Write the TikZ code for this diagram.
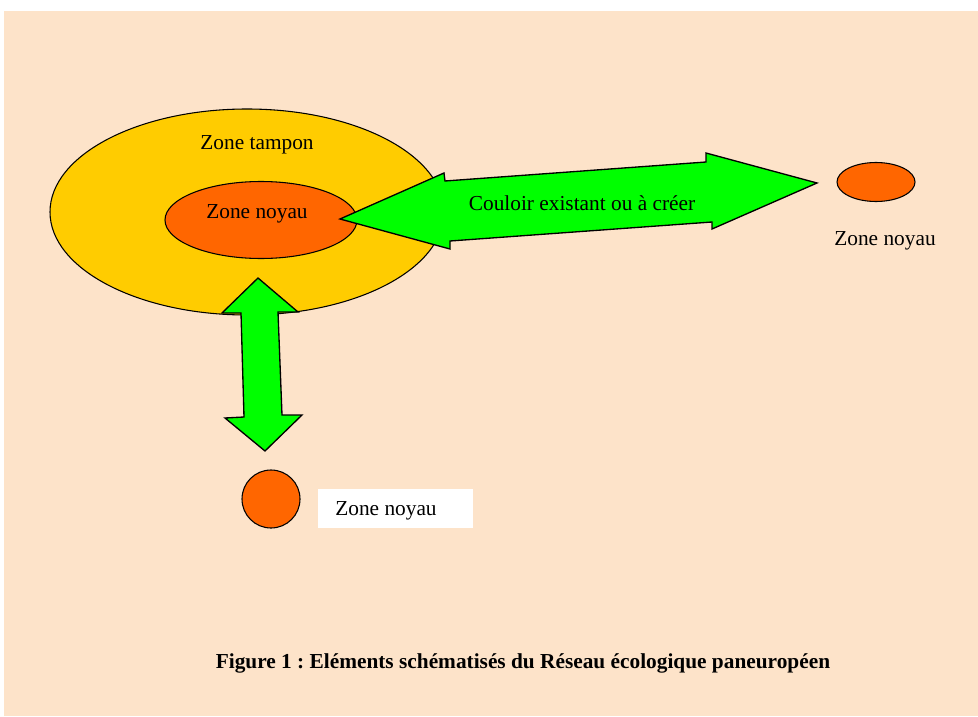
\documentclass[tikz,border=0pt]{standalone}
\usepackage{fontspec}
\setmainfont{Liberation Serif}
\usetikzlibrary{shapes.geometric}
\definecolor{fondPeche}{HTML}{FDE3C9}
\definecolor{jauneTampon}{HTML}{FFCC00}
\definecolor{orangeNoyau}{HTML}{FF6600}
\definecolor{vertCouloir}{HTML}{00FF00}
\frenchspacing

\begin{document}
\begin{tikzpicture}[
  x=0.75pt, y=-0.75pt,
  zone/.style={ellipse, draw=black, line width=0.8pt, inner sep=0pt},
  couloir/.style={draw=black, fill=vertCouloir, line width=1pt, line join=miter},
  etiquette/.style={font=\fontsize{16}{19}\selectfont, inner sep=0pt}
]
\useasboundingbox (0,0) rectangle (978,717);
\fill[fondPeche] (4,11) rectangle (978,716);

% zones
\node[zone, fill=jauneTampon, minimum width=295.5pt, minimum height=154.5pt] (tampon) at (247,212) {};
\node[zone, fill=orangeNoyau, minimum width=144pt, minimum height=57.75pt] (noyau) at (261,220) {};
\node[zone, fill=orangeNoyau, minimum width=58.5pt, minimum height=29.25pt] (noyauEst) at (876,182) {};
\node[zone, circle, fill=orangeNoyau, minimum size=43.5pt] (noyauSud) at (271,499) {};
\node[fill=white, minimum width=116.25pt, minimum height=29.25pt, inner sep=0pt] (boiteSud) at (395.5,508.5) {};

% couloirs
\draw[couloir] (340,219) -- (444,173) -- (445,181) -- (706,162) -- (706,153) -- (817,183)
  -- (712,229) -- (712,222) -- (450,241) -- (450,249) -- cycle;
\draw[couloir] (258,278) -- (298,312) -- (278,312) -- (282,415) -- (302,415) -- (265,451)
  -- (225,418) -- (244,417) -- (241,313) -- (222,313) -- cycle;

% textes
\node[etiquette] (txtTampon) at (257,145) {Zone tampon};
\node[etiquette] (txtNoyau) at (257,214) {Zone noyau};
\node[etiquette] (txtCouloir) at (582,203) {Couloir existant ou à créer};
\node[etiquette] (txtNoyauEst) at (885,241) {Zone noyau};
\node[etiquette] (txtNoyauSud) at (386,511) {Zone noyau};
\node[font=\fontsize{16}{19}\selectfont\bfseries, inner sep=0pt] (titre) at (523,663)
  {Figure 1 : Eléments schématisés du Réseau écologique paneuropéen};
\end{tikzpicture}
\end{document}
